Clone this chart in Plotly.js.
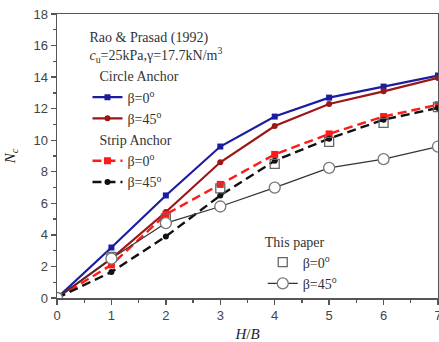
<!DOCTYPE html>
<html>
<head>
<meta charset="utf-8">
<script src="https://cdn.plot.ly/plotly-3.0.1.min.js"></script>
<style>html,body{margin:0;padding:0;background:#fff;}#chart{width:439px;height:342px;}</style>
</head>
<body>
<div id="chart"></div>
<script>
const hb = [0, 1, 2, 3, 4, 5, 6, 7];
const circleBeta0 = [0, 3.2, 6.5, 9.6, 11.5, 12.7, 13.4, 14.1];
const circleBeta45 = [0, 2.5, 5.45, 8.6, 10.9, 12.3, 13.1, 13.95];
const stripBeta0 = [0, 2.1, 5.3, 7.2, 9.1, 10.4, 11.5, 12.25];
const stripBeta45 = [0, 1.65, 3.9, 6.5, 8.7, 10.1, 11.3, 12.05];
const paperBeta0 = [0, 2.6, 5.05, 6.95, 8.5, 9.9, 11.1, 12.1];
const paperBeta45 = [0, 2.5, 4.75, 5.8, 7.0, 8.25, 8.8, 9.6];

const serif = 'Liberation Serif, Times New Roman, serif';
const lf = {family: serif, size: 14, color: '#333'};
const traces = [
  {x: hb, y: circleBeta0, name: 'β=0<sup>o</sup>', legendgroup: 'circle',
   legendgrouptitle: {text: '  Circle Anchor', font: lf},
   mode: 'lines+markers', line: {color: '#1c1ca0', width: 2.2},
   marker: {symbol: 'square', size: 6, color: '#1c1ca0'}},
  {x: hb, y: circleBeta45, name: 'β=45<sup>o</sup>', legendgroup: 'circle',
   mode: 'lines+markers', line: {color: '#9c1616', width: 2.2},
   marker: {symbol: 'circle', size: 6, color: '#9c1616'}},
  {x: hb, y: stripBeta0, name: 'β=0<sup>o</sup>', legendgroup: 'strip',
   legendgrouptitle: {text: '  Strip Anchor', font: lf},
   mode: 'lines+markers', line: {color: '#ff1a1a', width: 2.4, dash: '9px,5px'},
   marker: {symbol: 'square', size: 7, color: '#ff1a1a'}},
  {x: hb, y: stripBeta45, name: 'β=45<sup>o</sup>', legendgroup: 'strip',
   mode: 'lines+markers', line: {color: '#111', width: 2.4, dash: '9px,5px'},
   marker: {symbol: 'circle', size: 6, color: '#111'}},
  {x: hb, y: paperBeta0, name: 'β=0<sup>o</sup>', legend: 'legend2',
   mode: 'markers', marker: {symbol: 'square-open', size: 9, color: '#666', line: {width: 1.3}}},
  {x: hb, y: paperBeta45, name: 'β=45<sup>o</sup>', legend: 'legend2',
   mode: 'lines+markers', line: {color: '#333', width: 1.2},
   marker: {symbol: 'circle', size: 11, color: '#fff', line: {color: '#777', width: 1.3}}}
];

const tickFont = {family: 'Liberation Sans, Arial, sans-serif', size: 13, color: '#444'};
const layout = {
  width: 439, height: 342,
  margin: {l: 57, r: 1, t: 14, b: 44},
  paper_bgcolor: '#fff', plot_bgcolor: '#fff',
  showlegend: true,
  xaxis: {range: [0, 7], dtick: 1, ticks: 'outside', ticklen: 5, tickwidth: 1.3, tickcolor: '#555',
    minor: {dtick: 0.5, ticks: 'outside', ticklen: 3, tickcolor: '#555'},
    showline: true, linecolor: '#555', linewidth: 1.5, mirror: true, showgrid: false, zeroline: false,
    tickfont: tickFont, ticklabeloverflow: 'allow',
    title: {text: '<i>H</i>/<i>B</i>', font: {family: serif, size: 15, color: '#222'}, standoff: 8}},
  yaxis: {range: [0, 18], dtick: 2, ticks: 'outside', ticklen: 5, tickwidth: 1.3, tickcolor: '#555',
    minor: {dtick: 1, ticks: 'outside', ticklen: 3, tickcolor: '#555'},
    showline: true, linecolor: '#555', linewidth: 1.5, mirror: true, showgrid: false, zeroline: false,
    tickfont: tickFont,
    title: {text: '<i>N<sub>c</sub></i>', font: {family: serif, size: 15, color: '#222'}, standoff: 14}},
  legend: {x: 0.08, y: 0.965, xanchor: 'left', yanchor: 'top', bgcolor: 'rgba(0,0,0,0)',
    font: lf, itemwidth: 30, tracegroupgap: 0,
    traceorder: 'grouped',
    title: {text: 'Rao & Prasad (1992)<br><i>c</i><sub>u</sub>=25kPa,γ=17.7kN/m<sup>3</sup>', font: lf}},
  legend2: {x: 0.54, y: 0.245, xanchor: 'left', yanchor: 'top', bgcolor: 'rgba(0,0,0,0)',
    font: lf, itemwidth: 30,
    title: {text: 'This paper', font: lf}}
};

Plotly.newPlot('chart', traces, layout, {displayModeBar: false, staticPlot: true});
</script>
</body>
</html>
